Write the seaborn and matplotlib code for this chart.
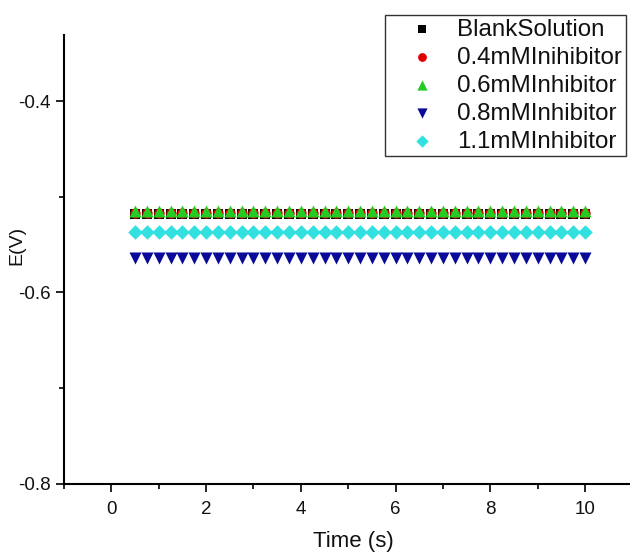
import matplotlib
matplotlib.use("Agg")
import matplotlib.pyplot as plt
from matplotlib.ticker import MultipleLocator
import seaborn as sns
import pandas as pd

time_s = [0.5, 0.75, 1.0, 1.25, 1.5, 1.75, 2.0, 2.25, 2.5, 2.75, 3.0, 3.25, 3.5,
          3.75, 4.0, 4.25, 4.5, 4.75, 5.0, 5.25, 5.5, 5.75, 6.0, 6.25, 6.5, 6.75,
          7.0, 7.25, 7.5, 7.75, 8.0, 8.25, 8.5, 8.75, 9.0, 9.25, 9.5, 9.75, 10.0]
series_names = ["BlankSolution", "0.4mMInihibitor", "0.6mMInhibitor",
                "0.8mMInhibitor", "1.1mMInhibitor"]
blank = [-0.518] * len(time_s)
inh_04 = [-0.517] * len(time_s)
inh_06 = [-0.515] * len(time_s)
inh_08 = [-0.564] * len(time_s)
inh_11 = [-0.537] * len(time_s)

rows = []
for name, vals in zip(series_names, [blank, inh_04, inh_06, inh_08, inh_11]):
    for t, v in zip(time_s, vals):
        rows.append({"Time": t, "E": v, "Series": name})
df = pd.DataFrame(rows)

sns.set_theme(style="ticks")
plt.rcParams["font.family"] = ["Liberation Sans", "DejaVu Sans"]

fig = plt.figure(figsize=(6.3, 5.53), dpi=100)
ax = fig.add_axes([0.1016, 0.1248, 0.90, 0.812])

palette = {"BlankSolution": "#000000", "0.4mMInihibitor": "#e00000",
           "0.6mMInhibitor": "#22cc22", "0.8mMInhibitor": "#0a0a9a",
           "1.1mMInhibitor": "#33e0e0"}
markers = {"BlankSolution": "s", "0.4mMInihibitor": "o",
           "0.6mMInhibitor": "^", "0.8mMInhibitor": "v",
           "1.1mMInhibitor": "D"}
sizes_m = {"BlankSolution": 50, "0.4mMInihibitor": 55, "0.6mMInhibitor": 75,
           "0.8mMInhibitor": 75, "1.1mMInhibitor": 55}

for name in series_names:
    sub = df[df["Series"] == name]
    sns.scatterplot(data=sub, x="Time", y="E", ax=ax, color=palette[name],
                    marker=markers[name], s=sizes_m[name], linewidth=0,
                    label=name)

ax.set_xlim(-1, 10.97)
ax.set_ylim(-0.8, -0.331)
ax.xaxis.set_major_locator(MultipleLocator(2))
ax.xaxis.set_minor_locator(MultipleLocator(1))
ax.yaxis.set_major_locator(MultipleLocator(0.2))
ax.yaxis.set_minor_locator(MultipleLocator(0.1))
ax.yaxis.set_major_formatter(matplotlib.ticker.FuncFormatter(lambda v, p: f"{v:.1f}"))
ax.tick_params(axis="both", which="major", direction="out", length=6, width=1.2,
               labelsize=13.5, color="black", labelcolor="#111111", pad=3.5)
ax.tick_params(axis="x", which="major", pad=6)
ax.tick_params(axis="both", which="minor", direction="out", length=3.5, width=1.2,
               color="black")
for side in ["top", "right"]:
    ax.spines[side].set_visible(False)
for side in ["left", "bottom"]:
    ax.spines[side].set_color("black")
    ax.spines[side].set_linewidth(1.5)
ax.set_xlabel("Time (s)", fontsize=16, color="#111111")
ax.xaxis.set_label_coords(0.51, -0.105)
ax.set_ylabel("E(V)", fontsize=14, color="#111111")
ax.yaxis.set_label_coords(-0.069, 0.532)

leg = ax.legend(loc="upper right", bbox_to_anchor=(0.991, 1.0445), fontsize=17.4,
                frameon=True, fancybox=False, edgecolor="black",
                handletextpad=0.05, borderpad=0.15, labelspacing=0.25,
                markerscale=0.85, handlelength=2.8, borderaxespad=0)
leg.get_frame().set_linewidth(1.0)
for t in leg.get_texts():
    t.set_color("#111111")

fig.savefig("out.png", dpi=100)
